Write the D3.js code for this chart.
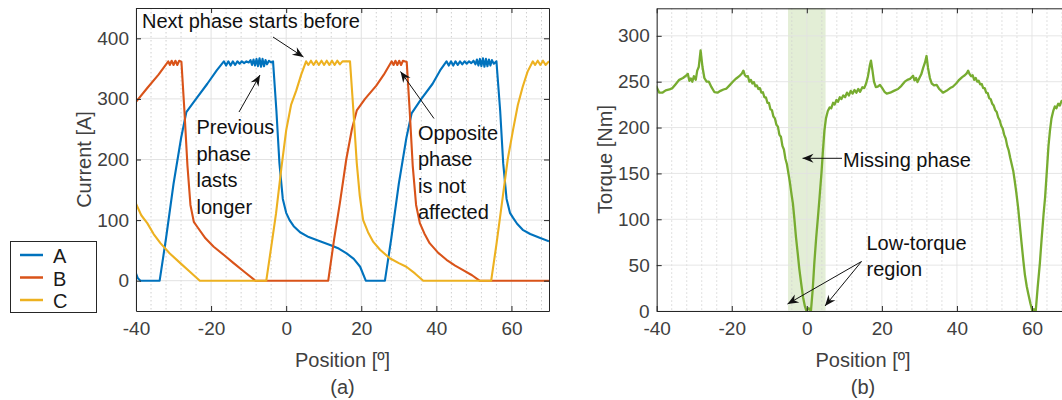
<!DOCTYPE html>
<html><head><meta charset="utf-8">
<script src="https://cdn.jsdelivr.net/npm/d3@7"></script>
<style>
body{margin:0;background:#fff;}
svg{display:block;font-family:"Liberation Sans",Arial,Helvetica,sans-serif;}
</style></head><body>
<svg id="c" width="1062" height="400"></svg>
<script>
// ---------- DATA ----------
const seriesNames = ["A", "B", "C"];
const seriesColors = ["#0072BD", "#D95319", "#EDB120"];
const torqueColor = "#77AC30";

const positionTicks = [-40, -20, 0, 20, 40, 60];
const currentTicks = [0, 100, 200, 300, 400];
const torqueTicks = [0, 50, 100, 150, 200, 250, 300];
const missingBand = [-5, 5];

// Phase A current [position, A]
const phaseA = [
  [-40,12],[-39.5,4],[-38.8,0],[-33.7,0],[-32,70],[-30,160],[-28,235],[-26.6,278],[-24,300],[-21,325],[-18.5,347],[-16.6,362],
  [-16.0,355],[-15.4,362],[-14.8,355],[-14.2,362],[-13.6,356],[-13.0,362],[-12.4,358],[-11.8,362],[-11.2,359],[-10.6,362],[-10.0,360],
  [-9.5,364],[-9.1,356],[-8.7,365],[-8.3,355],[-7.9,366],[-7.5,354],[-7.1,367],[-6.7,353],[-6.3,366],[-5.9,354],[-5.5,364],[-5.1,357],[-4.6,363],[-4.0,360],[-3.5,362],
  [-2.6,280],[-1.8,194],[-0.9,135],[0.0,112],[0.9,100],[2,90],[3.7,80],[6,72],[9,65],[11.7,59],[14,53],[16.1,45],[18,36],[19.7,23],[21.2,0],
  [26.3,0],[28,70],[30,160],[32,235],[33.4,276],[36,300],[39,325],[41,347],[42.7,362],
  [43.3,355],[43.9,362],[44.5,355],[45.1,362],[45.7,356],[46.3,362],[46.9,357],[47.5,362],[48.1,358],[48.7,362],[49.3,359],[49.9,363],
  [50.4,357],[50.8,365],[51.2,355],[51.6,366],[52,354],[52.4,367],[52.8,353],[53.2,366],[53.6,354],[54,365],[54.4,355],[54.8,364],[55.3,358],[56,362],
  [57,280],[57.8,194],[58.7,135],[59.6,112],[60.4,104],[61.5,94],[63,84],[65,77],[67.5,71],[70,65]
];

// Phase B current
const phaseB = [
  [-40,295],[-37,318],[-34,340],[-31.4,362],
  [-31.0,356],[-30.5,363],[-30.0,356],[-29.5,363],[-29.0,356],[-28.5,363],[-27.9,361],
  [-27.1,280],[-26.3,190],[-25.5,125],[-24.6,97],[-23.7,89],[-21.5,70],[-19.3,56],[-16.5,42],[-14,29],[-11,14],[-8.2,0],
  [11.2,0],[12.8,70],[14.3,128],[16,200],[17.5,250],[18.8,281],[21,300],[24,322],[26,340],[28.1,362],
  [28.6,356],[29.1,363],[29.6,356],[30.1,363],[30.6,356],[31.1,363],[32.1,361],
  [32.9,280],[33.7,190],[34.6,125],[35.6,95],[36.8,78],[38.2,62],[40.5,46],[42.7,34.5],[45,25],[47,18],[49.5,9],[51.5,0],
  [70,0]
];

// Phase C current
const phaseC = [
  [-40,127],[-38.6,108],[-37,95],[-35.3,77],[-33.5,62],[-31,45],[-28.2,29],[-25.5,14],[-23,0],
  [-5.3,0],[-4,55],[-2.7,111],[-1.3,185],[0,248],[1.3,290],[2.7,314],[4,340],[5.3,362],
  [5.9,356],[6.6,363],[7.3,356],[8.0,363],[8.7,356],[9.4,363],[10.1,356],[10.8,363],[11.5,356],[12.2,363],[12.9,356],[13.6,363],[14.3,357],[15.0,362],[17,362],
  [17.8,290],[18.8,194],[19.6,140],[20.5,100],[21.8,80],[23.2,64],[25,51],[27.6,37],[30,29],[32,23],[34.3,12],[36.5,0],
  [54.6,0],[56,60],[57.7,139],[59,200],[60.4,248],[61.7,290],[63,320],[64.3,345],[65.7,362],
  [66.3,356],[67,363],[67.7,356],[68.4,363],[69.1,356],[70,362]
];

// Torque [position, Nm]
const torque = [
  [-40.5,246],[-40,244],[-39.3,238],[-38.5,238],[-37.6,240.5],[-36.6,241.5],[-35.8,243],[-35,247],[-34,252],[-33,254],[-32.2,256.5],[-31.7,258.5],
  [-31.3,251],[-30.9,253.5],[-30.5,250],[-30.1,256],[-29.6,252],[-29.2,262],[-28.8,266],[-28.3,284],[-27.8,266],[-27.3,254],[-26.7,250],[-26.1,250],
  [-25.4,244],[-24.6,238.5],[-23.8,238],[-23,240],[-22.2,241.5],[-21.4,242.5],[-20.6,246],[-19.6,250.5],[-18.8,253.5],[-18,256],[-17.3,259],[-16.9,262],
  [-16.5,257],[-16.1,255.5],[-15.7,256],[-15.3,250],[-14.9,252],[-14.5,248],[-14.1,249.5],[-13.7,245],[-13.3,246],[-12.9,242],[-12.5,243],[-12.1,238],
  [-11.7,238.5],[-11.3,233],[-10.9,233],[-10.5,227],[-10.1,227],[-9.7,220],[-9.3,219],[-8.9,212],[-8.5,210],[-8.1,203],[-7.7,201],[-7.3,192],[-6.9,190],
  [-6.5,180],[-6.1,176],[-5.7,166],[-5.3,160],[-4.9,150],[-4.5,140],[-4.1,128],[-3.7,117],[-3.3,100],[-2.9,81],[-2.4,62],[-2,46],[-1.5,30],[-1,15],
  [-0.5,5],[-0.1,0],[0.5,3],[1.1,0],[1.6,25],[2,52],[2.5,80],[3,104],[3.4,124],[3.9,150],[4.3,175],[4.7,197],[5.1,210],[5.6,218],[6.1,222],[6.5,221],
  [7,227],[7.4,225],[7.9,230],[8.3,228],[8.8,233],[9.2,231],[9.7,235],[10.2,233],[10.7,238],[11.2,235],[11.7,240],[12.2,237],[12.7,241],[13.2,238],
  [13.7,242],[14.2,239],[14.8,244],[15.3,243],[15.8,248],[16.3,256],[16.8,268],[17.1,273],[17.5,262],[17.9,250],[18.4,244],[18.9,244.5],[19.5,246.5],
  [20.1,243],[20.7,239],[21.3,237],[22.2,238],[23.2,240],[24.3,242],[25.2,245.5],[26.1,250],[26.8,252],[27.5,253],[28.3,256.5],[28.7,251.5],[29.1,254],
  [29.5,249.5],[30,254],[30.5,258],[31,265],[31.5,271],[31.9,278],[32.3,265],[32.8,254],[33.3,248],[33.9,246],[34.6,246.5],[35.3,242],[36.3,238],
  [37.2,240],[38.2,243],[38.9,244.5],[39.8,248],[40.6,252],[41.4,255],[42.1,257],[42.6,259],[43,262],[43.4,258],[43.8,256],[44.2,257],[44.6,252],
  [45,254],[45.4,250],[45.8,251],[46.2,247],[46.6,247.5],[47,243],[47.4,243],[47.8,238],[48.2,237.5],[48.6,232],[49,231],[49.4,226],[49.8,224],
  [50.2,219],[50.6,217],[51,211],[51.4,208],[51.8,202],[52.2,199],[52.6,192],[53,188],[53.4,180],[53.8,175],[54.2,167],[54.6,160],[55,153],[55.4,142],
  [55.8,130],[56.3,113],[56.8,92],[57.2,75],[57.7,55],[58.1,40],[58.6,27],[59,19],[59.6,8],[60.1,0],[60.5,2],[61,0],[61.5,25],[62.1,52],[62.6,80],
  [63.1,106],[63.5,124],[64,155],[64.4,180],[64.8,197],[65.2,210],[65.7,218.5],[66.1,223],[66.5,221],[67,226],[67.4,224],[67.9,229],[68.3,228],
  [68.8,232],[69.3,230],[69.8,234],[70.3,233]
];

// ---------- DRAWING ----------
const svg = d3.select("#c");
const FONT_TICK = 19, FONT_LABEL = 20, FONT_ANN = 20;
const tickColor = "#404040";
const fmt = d => String(d);

const defs = svg.append("defs");
defs.append("marker").attr("id","arr").attr("viewBox","-12 -6 12 12")
  .attr("refX",0).attr("refY",0).attr("markerWidth",12).attr("markerHeight",12)
  .attr("markerUnits","userSpaceOnUse").attr("orient","auto")
  .append("path").attr("d","M0,0 L-11,-4.5 L-7.5,0 L-11,4.5 Z").attr("fill","#111");

function panel(id, xDomain, xRange, yDomain, yRange, yTicks) {
  const x = d3.scaleLinear(xDomain, xRange);
  const y = d3.scaleLinear(yDomain, yRange);
  const g = svg.append("g");
  const [x0, x1] = xRange, [yb, yt] = yRange;
  defs.append("clipPath").attr("id", "clip" + id).append("rect")
    .attr("x", x0).attr("y", yt).attr("width", x1 - x0).attr("height", yb - yt);
  const grid = g.append("g");
  const minor = d3.range(xDomain[0], xDomain[1] + 0.01, 4).filter(v => v % 20 !== 0);
  grid.selectAll(".mx").data(minor).join("line")
    .attr("x1", d => x(d)).attr("x2", d => x(d)).attr("y1", yt).attr("y2", yb)
    .attr("stroke", "#cfcfcf").attr("stroke-width", 1).attr("stroke-dasharray", "1.5,2.5");
  grid.selectAll(".gx").data(positionTicks).join("line")
    .attr("x1", d => x(d)).attr("x2", d => x(d)).attr("y1", yt).attr("y2", yb)
    .attr("stroke", "#e2e2e2").attr("stroke-width", 1);
  grid.selectAll(".gy").data(yTicks).join("line")
    .attr("x1", x0).attr("x2", x1).attr("y1", d => y(d)).attr("y2", d => y(d))
    .attr("stroke", "#e2e2e2").attr("stroke-width", 1);
  return {x, y, g, grid, clip: "url(#clip" + id + ")"};
}

function axes(p, yTicks, xRange, yRange) {
  const [x0, x1] = xRange, [yb, yt] = yRange;
  const ax = p.g.append("g").attr("transform", `translate(0,${yb})`)
    .call(d3.axisBottom(p.x).tickValues(positionTicks).tickFormat(fmt).tickSizeInner(-5).tickSizeOuter(0).tickPadding(11));
  const ay = p.g.append("g").attr("transform", `translate(${x0},0)`)
    .call(d3.axisLeft(p.y).tickValues(yTicks).tickFormat(fmt).tickSizeInner(-5).tickSizeOuter(0).tickPadding(7));
  const at = p.g.append("g").attr("transform", `translate(0,${yt})`)
    .call(d3.axisTop(p.x).tickValues(positionTicks).tickSizeInner(-5).tickSizeOuter(0).tickFormat(""));
  const ar = p.g.append("g").attr("transform", `translate(${x1},0)`)
    .call(d3.axisRight(p.y).tickValues(yTicks).tickSizeInner(-5).tickSizeOuter(0).tickFormat(""));
  [ax, ay, at, ar].forEach(a => {
    a.select(".domain").attr("stroke", "#262626").attr("stroke-width", 1);
    a.selectAll(".tick line").attr("stroke", "#262626");
    a.selectAll("text").attr("fill", tickColor).style("font-size", FONT_TICK + "px")
      .style("font-family", '"Liberation Sans",Arial,Helvetica,sans-serif');
  });
}

function arrow(x1, y1, x2, y2) {
  svg.append("line").attr("x1", x1).attr("y1", y1).attr("x2", x2).attr("y2", y2)
    .attr("stroke", "#111").attr("stroke-width", 1).attr("marker-end", "url(#arr)");
}
function textLines(x, y0, dy, lines) {
  lines.forEach((t, i) => svg.append("text").attr("x", x).attr("y", y0 + i * dy)
    .attr("fill", "#111").style("font-size", FONT_ANN + "px").text(t));
}

// ---- Panel (a) ----
const xRA = [136, 549], yRA = [311, 8];
const pA = panel("a", [-40, 70], xRA, [-50, 450], yRA, currentTicks);
const lineA = d3.line().x(d => pA.x(d[0])).y(d => pA.y(d[1]));
const curves = [phaseA, phaseB, phaseC];
pA.g.append("g").attr("clip-path", pA.clip).selectAll("path").data(curves).join("path")
  .attr("d", d => lineA(d)).attr("fill", "none")
  .attr("stroke", (d, i) => seriesColors[i]).attr("stroke-width", 2.1)
  .attr("stroke-linejoin", "round");
axes(pA, currentTicks, xRA, yRA);

svg.append("text").attr("transform", "translate(84,159.5) rotate(-90)")
  .attr("text-anchor", "middle").attr("dominant-baseline", "central")
  .attr("fill", tickColor).style("font-size", FONT_LABEL + "px").text("Current [A]");
svg.append("text").attr("x", 342.5).attr("y", 367).attr("text-anchor", "middle")
  .attr("fill", tickColor).style("font-size", FONT_LABEL + "px").text("Position [º]");
svg.append("text").attr("x", 342.5).attr("y", 394).attr("text-anchor", "middle")
  .attr("fill", tickColor).style("font-size", FONT_LABEL + "px").text("(a)");

// legend
const leg = svg.append("g");
leg.append("rect").attr("x", 10.5).attr("y", 241.5).attr("width", 86).attr("height", 71)
  .attr("fill", "#fff").attr("stroke", "#262626").attr("stroke-width", 1);
const legY = [255, 277.5, 300];
seriesNames.forEach((n, i) => {
  leg.append("line").attr("x1", 20).attr("x2", 43).attr("y1", legY[i]).attr("y2", legY[i])
    .attr("stroke", seriesColors[i]).attr("stroke-width", 2.5);
  leg.append("text").attr("x", 53).attr("y", legY[i] + 8).attr("fill", "#1a1a1a")
    .style("font-size", FONT_LABEL + "px").text(n);
});

// annotations (a)
textLines(142, 27.5, 0, ["Next phase starts before"]);
arrow(273, 37, 303.5, 57);
textLines(196.5, 134.3, 26.4, ["Previous", "phase", "lasts", "longer"]);
arrow(239, 112, 260, 75);
textLines(418, 140, 26.4, ["Opposite", "phase", "is not", "affected"]);
arrow(434, 118.5, 400.5, 71.5);

// ---- Panel (b) ----
const xRB = [656.7, 1069.5], yRB = [311, 8.3];
const xB = d3.scaleLinear([-40, 70], xRB);
svg.append("rect").attr("x", xB(missingBand[0])).attr("y", yRB[1])
  .attr("width", xB(missingBand[1]) - xB(missingBand[0])).attr("height", yRB[0] - yRB[1])
  .attr("fill", "#e3eed6");
const pB = panel("b", [-40, 70], xRB, [0, 330], yRB, torqueTicks);
pB.grid.selectAll("line").attr("stroke-opacity", 0.85);
const lineB = d3.line().x(d => pB.x(d[0])).y(d => pB.y(d[1]));
pB.g.append("path").attr("clip-path", pB.clip).datum(torque)
  .attr("d", lineB).attr("fill", "none").attr("stroke", torqueColor)
  .attr("stroke-width", 2.3).attr("stroke-linejoin", "round");
axes(pB, torqueTicks, xRB, yRB);

svg.append("text").attr("transform", "translate(605,159.5) rotate(-90)")
  .attr("text-anchor", "middle").attr("dominant-baseline", "central")
  .attr("fill", tickColor).style("font-size", FONT_LABEL + "px").text("Torque [Nm]");
svg.append("text").attr("x", 863).attr("y", 367).attr("text-anchor", "middle")
  .attr("fill", tickColor).style("font-size", FONT_LABEL + "px").text("Position [º]");
svg.append("text").attr("x", 863).attr("y", 394).attr("text-anchor", "middle")
  .attr("fill", tickColor).style("font-size", FONT_LABEL + "px").text("(b)");

textLines(843, 166.7, 0, ["Missing phase"]);
arrow(842, 158.3, 802.5, 158.3);
textLines(866.5, 250, 26, ["Low-torque", "region"]);
arrow(861.5, 261.5, 787.5, 304);
arrow(861.5, 261.5, 825, 306);
</script>
</body></html>
